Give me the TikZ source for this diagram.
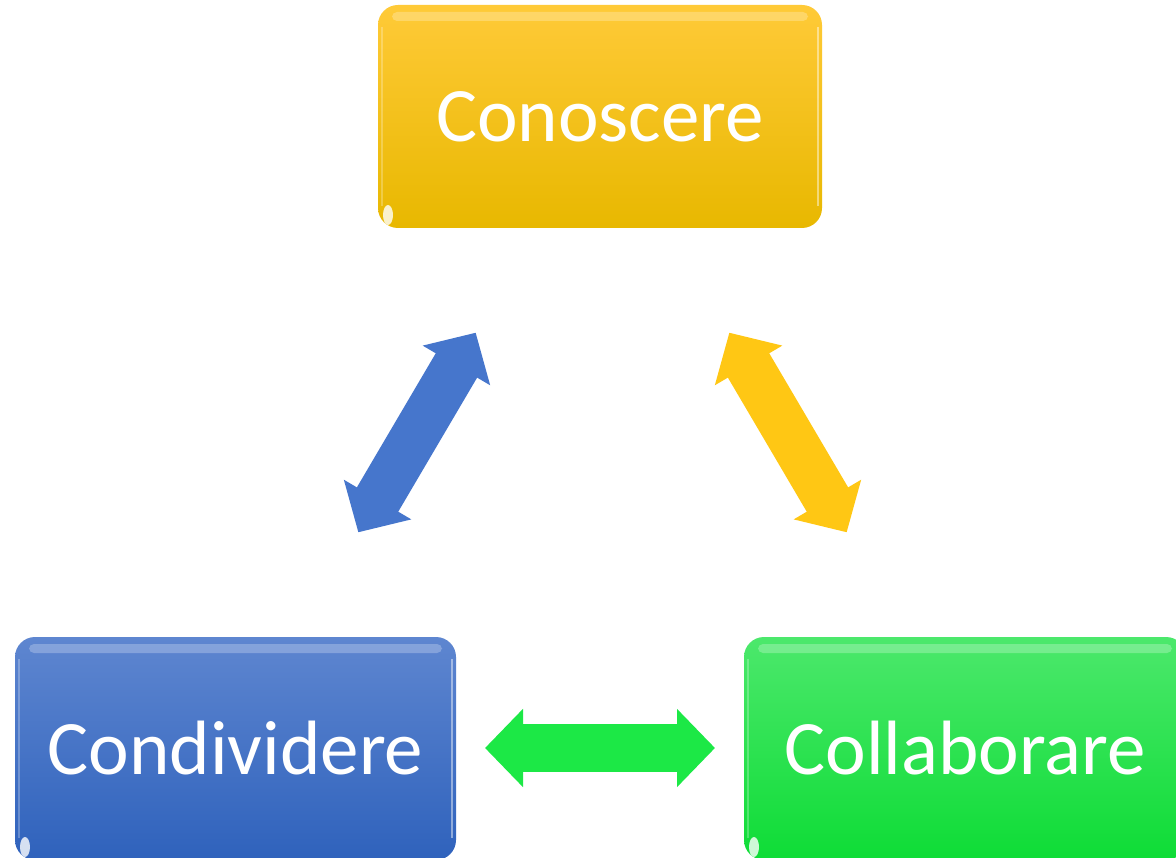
\documentclass[tikz,border=0pt]{standalone}
\usepackage{fontspec}
\newfontfamily\boxfont{Carlito}
\usetikzlibrary{arrows.meta}
\definecolor{yeltop}{HTML}{FFCA38}
\definecolor{yelbot}{HTML}{E8B800}
\definecolor{blutop}{HTML}{5E86D0}
\definecolor{blubot}{HTML}{2F62BC}
\definecolor{grntop}{HTML}{4CE86C}
\definecolor{grnbot}{HTML}{0EDC36}
\definecolor{bluarr}{HTML}{4676CC}
\definecolor{yelarr}{HTML}{FFC714}
\definecolor{grnarr}{HTML}{1CE846}
\tikzset{
  gloss/.style={
    path picture={
      \fill[white,opacity=0.25,rounded corners=5pt]
        ([xshift=14pt,yshift=-7pt]path picture bounding box.north west) rectangle
        ([xshift=-14pt,yshift=-16pt]path picture bounding box.north east);
      \draw[white,opacity=0.45,line width=1.5pt]
        ([xshift=-4pt,yshift=-22pt]path picture bounding box.north east) --
        ([xshift=-4pt,yshift=22pt]path picture bounding box.south east);
      \draw[white,opacity=0.25,line width=1.5pt]
        ([xshift=4pt,yshift=-22pt]path picture bounding box.north west) --
        ([xshift=4pt,yshift=22pt]path picture bounding box.south west);
      \fill[white,opacity=0.8,rotate around={-35:([xshift=10pt,yshift=13pt]path picture bounding box.south west)}]
        ([xshift=10pt,yshift=13pt]path picture bounding box.south west) ellipse (5pt and 10pt);
    }},
  bigbox/.style={rounded corners=20pt, minimum height=223pt, inner sep=0pt,
    text=white, font=\boxfont\fontsize{77}{88}\selectfont, gloss},
  fatarrow/.style={line width=48pt,
    {Triangle[length=38pt,width=76pt]}-{Triangle[length=38pt,width=76pt]}},
}
\begin{document}
\begin{tikzpicture}[x=1pt,y=-1pt]
\useasboundingbox (0,0) rectangle (1176,858);
\fill[white] (0,0) rectangle (1176,858);

\node[bigbox, minimum width=444pt, top color=yeltop, bottom color=yelbot]
  (con) at (600,116.5) {Conoscere};
\node[bigbox, minimum width=441pt, top color=blutop, bottom color=blubot]
  (cond) at (235.5,748.5) {Condividere};
\node[bigbox, minimum width=442pt, top color=grntop, bottom color=grnbot]
  (col) at (965,748.5) {Collaborare};

\coordinate (b1) at (358.3,532.3);
\coordinate (b2) at (475.7,332.7);
\coordinate (y1) at (729.3,332.7);
\coordinate (y2) at (846.7,532.3);
\coordinate (g1) at (485,748);
\coordinate (g2) at (715,748);

\draw[fatarrow, bluarr] (b1) -- (b2);
\draw[fatarrow, yelarr] (y1) -- (y2);
\draw[fatarrow, grnarr] (g1) -- (g2);
\end{tikzpicture}
\end{document}
